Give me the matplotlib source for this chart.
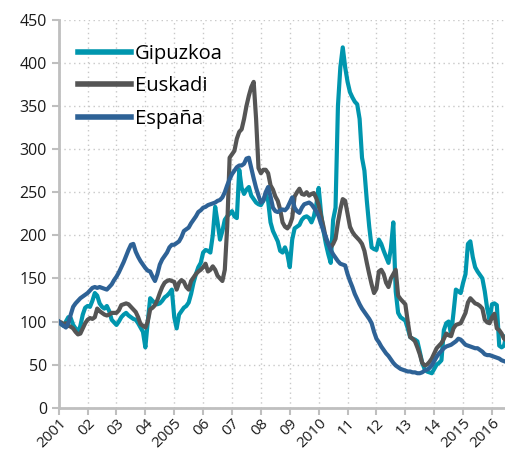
import numpy as np
import matplotlib.pyplot as plt

plt.rcParams['font.family'] = ['Open Sans', 'DejaVu Sans']

# monthly index, Jan 2001 .. Jul 2016 (2001 = 100)
start_year = 2001

gipuzkoa = [
    100, 97, 95, 100, 105, 104, 96, 92, 87, 95, 108, 116,
    118, 117, 124, 133, 130, 121, 117, 115, 118, 112, 102, 99,
    96, 100, 105, 108, 110, 107, 105, 103, 102, 98, 93, 88,
    70, 100, 127, 124, 121, 120, 121, 124, 128, 130, 133, 137,
    105, 92, 108, 112, 116, 118, 122, 132, 145, 155, 163, 168,
    180, 183, 182, 180, 200, 233, 215, 195, 205, 218, 222, 225,
    228, 222, 220, 276, 255, 248, 253, 256, 246, 242, 238, 236,
    235, 240, 248, 240, 215, 205, 199, 193, 182, 180, 186, 178,
    163, 195, 208, 210, 212, 218, 221, 222, 220, 215, 222, 235,
    255, 225, 205, 190, 178, 168, 218, 232, 350, 395, 418, 395,
    378, 366, 360, 355, 352, 335, 290, 275, 240, 210, 186, 184,
    183, 195, 190, 182, 175, 168, 185, 215, 135, 110, 105, 103,
    101, 92, 82, 80, 79, 77, 65, 52, 45, 42, 41, 40,
    45, 50, 52, 55, 90, 98, 100, 85, 110, 137, 135, 133,
    145, 155, 190, 193, 175, 163, 158, 154, 150, 135, 115, 102,
    120, 121, 119, 72, 70, 72, 85,
]

euskadi = [
    100, 99, 97, 98, 95, 94, 92, 88, 85, 86, 92, 98,
    102, 104, 103, 105, 115, 112, 110, 108, 107, 108, 110, 110,
    110, 113, 119, 120, 121, 120, 117, 114, 111, 105, 97, 95,
    93, 100, 114, 116, 119, 125, 133, 140, 145, 147, 148, 147,
    146, 137, 145, 148, 146, 140, 137, 147, 151, 155, 158, 160,
    163, 167, 158, 160, 164, 160, 153, 150, 147, 160, 210, 290,
    294, 298, 312, 320, 323, 335, 350, 362, 372, 378, 335, 278,
    272, 276, 276, 272, 258, 253, 245, 240, 230, 215, 210, 208,
    212, 220, 245, 250, 254, 248, 247, 250, 246, 248, 249, 243,
    235, 222, 210, 196, 190, 186, 190, 196, 215, 230, 242, 240,
    225, 210, 204, 200, 197, 194, 190, 182, 168, 155, 143, 133,
    138, 158, 160, 155, 145, 140, 150, 155, 160, 130, 126, 123,
    120, 100, 82, 80, 77, 70, 62, 52, 49, 50, 53, 57,
    63, 69, 72, 75, 80, 86, 84, 83, 92, 96, 97, 98,
    104, 110, 122, 127, 124, 121, 120, 118, 115, 102, 99, 98,
    105, 109, 92, 90, 86, 80, 78,
]

espana = [
    100, 97, 95, 93, 98, 108, 117, 121, 124, 127, 129, 131,
    133, 136, 139, 140, 139, 140, 139, 138, 137, 140, 143, 148,
    152, 157, 163, 169, 176, 183, 189, 190, 181, 175, 170, 166,
    162, 159, 158, 152, 147, 155, 166, 172, 176, 180, 186, 189,
    189, 191, 193, 198, 205, 207, 209, 214, 218, 222, 227, 229,
    232, 233, 235, 236, 237, 238, 240, 241, 244, 250, 258, 265,
    271, 275, 279, 281, 281, 283, 289, 290, 278, 266, 255, 246,
    238, 240, 250, 256, 245, 232, 228, 227, 229, 230, 229, 232,
    238, 244, 232, 228, 226, 232, 236, 237, 238, 236, 232, 228,
    222, 213, 205, 198, 190, 183, 178, 174, 170, 167, 166, 165,
    155, 147, 140, 132, 126, 120, 115, 111, 107, 103, 98, 88,
    80, 76, 71, 67, 63, 60, 56, 52, 49, 47, 45, 44,
    43, 42, 42, 41, 41, 40, 40, 41, 43, 44, 46, 49,
    54, 59, 63, 66, 69, 71, 72, 73, 75, 77, 80, 79,
    76, 73, 72, 71, 70, 69, 69, 67, 65, 62, 61, 61,
    60, 59, 58, 57, 55, 54, 53,
]

year_ticks = list(range(2001, 2017))
year_labels = ['2001', '02', '03', '04', '2005', '06', '07', '08', '09',
               '2010', '11', '12', '13', '14', '2015', '2016']

months = start_year + np.arange(len(espana)) / 12.0

fig = plt.figure(figsize=(5.05, 4.5), dpi=100)
ax = fig.add_axes([58.7 / 505, 42.3 / 450, 1 - 58.7 / 505, 387.9 / 450])

ax.plot(months, gipuzkoa, color='#0096ae', linewidth=3, label='Gipuzkoa', zorder=3)
ax.plot(months, euskadi, color='#555555', linewidth=3, label='Euskadi', zorder=4)
ax.plot(months, espana, color='#2e6296', linewidth=3, label='España', zorder=5)

ax.set_xlim(2001, 2016.45)
ax.set_ylim(0, 450)
ax.set_yticks(range(0, 451, 50))
ax.set_xticks(year_ticks)
ax.set_xticklabels(year_labels, rotation=45, ha='right', rotation_mode='anchor')

# dotted grid
ax.grid(True, linestyle=(0, (1, 2.5)), color='#c8c8c8', linewidth=1)
ax.set_axisbelow(True)

for side in ['top', 'right']:
    ax.spines[side].set_visible(False)
for side in ['left', 'bottom']:
    ax.spines[side].set_color('#bfbfbf')
    ax.spines[side].set_linewidth(2)

ax.tick_params(axis='both', colors='#bfbfbf', labelcolor='#1a1a1a',
               labelsize=11.5, length=5, width=1.5)
ax.tick_params(axis='x', labelsize=11, pad=1)

leg = ax.legend(loc='upper left', bbox_to_anchor=(0.003, 0.985), frameon=False,
                fontsize=14.5, handlelength=2.6, handletextpad=0.2,
                labelspacing=0.62)
for line in leg.get_lines():
    line.set_linewidth(4)

fig.savefig('out.png', dpi=100)
